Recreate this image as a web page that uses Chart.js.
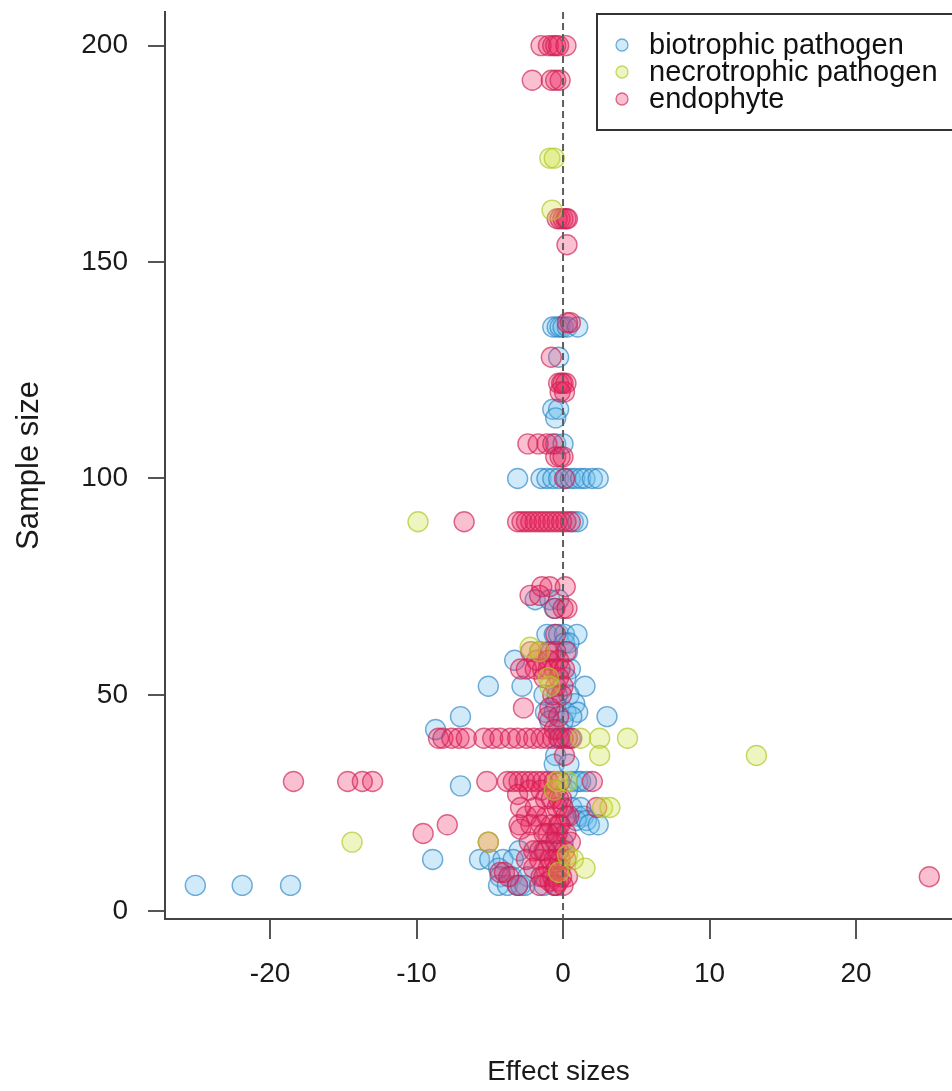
<!DOCTYPE html>
<html><head><meta charset="utf-8">
<script src="https://cdn.jsdelivr.net/npm/chart.js@4.4.0/dist/chart.umd.min.js"></script>
<style>html,body{margin:0;padding:0;background:#fff;overflow:hidden}#wrap{width:952px;height:1091px}</style>
</head><body><div id="wrap"><canvas id="c" width="952" height="1091"></canvas></div>
<script>
const seriesNames = ['biotrophic pathogen', 'necrotrophic pathogen', 'endophyte'];
const xTickValues = [-20, -10, 0, 10, 20];
const yTickValues = [0, 50, 100, 150, 200];
const xTitle = 'Effect sizes';
const yTitle = 'Sample size';

// biotrophic pathogen
const bioEffect = [
  -0.7,-0.4,-0.2,0,0.3,1.0,
  -0.3,
  -0.7,-0.3,
  -0.5,
  -0.5,0,
  -3.1,-1.5,-1.1,-0.7,-0.3,0.2,0.5,0.8,1.2,1.5,2.0,2.4,
  0.7,1.0,
  -1.9,-0.9,-0.3,
  -0.6,
  -1.1,-0.6,-0.3,0.1,0.95,
  0.1,0.4,
  -0.8,0.3,
  -3.3,
  0.5,
  0.2,
  -5.1,-2.8,1.5,
  -1.3,-0.4,0.4,
  -0.5,0.8,
  -1.2,-0.6,0.2,1.0,
  -7.0,0.6,3.0,
  -0.9,0.0,
  -8.7,-0.3,
  -0.2,0.5,
  -0.5,
  -0.6,0.4,
  0.6,1.0,1.2,1.6,
  -7.0,
  0.3,
  0.6,1.2,
  1.0,1.4,
  0.9,1.6,
  1.8,2.4,
  -0.5,
  0.0,
  -3.0,-1.3,
  -8.9,-5.7,-5.0,-4.1,-3.4,
  -4.4,
  -4.3,-3.5,-2.4,
  -25.1,-21.9,-18.6,-4.4,-3.8,-3.1,-2.9,-2.6,-1.3,-0.5
];
const bioN = [
  135,135,135,135,135,135,
  128,
  116,116,
  114,
  108,108,
  100,100,100,100,100,100,100,100,100,100,100,100,
  90,90,
  72,72,72,
  70,
  64,64,64,64,64,
  62,62,
  60,60,
  58,
  56,
  54,
  52,52,52,
  50,50,50,
  48,48,
  46,46,46,46,
  45,45,45,
  44,44,
  42,42,
  40,40,
  36,
  34,34,
  30,30,30,30,
  29,
  28,
  24,24,
  22,22,
  21,21,
  20,20,
  18,
  16,
  14,14,
  12,12,12,12,12,
  10,
  8,8,8,
  6,6,6,6,6,6,6,6,6,6
];

// necrotrophic pathogen
const necroEffect = [-0.9,-0.6, -0.75, -9.9, -2.25, -1.6, -1.0, -0.9, 1.2,2.5,4.4, 13.2,2.5, -0.4,0.3, -0.6, 2.7,3.2, -14.4,-5.1, 0.3, 0.7, 1.5, -0.3];
const necroN      = [174,174,   162,   90,   61,    60,   54,   52,   40,40,40,   36,36,   30,30,   28,   24,24,   16,16,    13,  12,  10,  9];

// endophyte
const endoEffect = [
  -1.5,-1.0,-0.7,-0.5,-0.3,0.2,
  -2.1,-0.8,-0.5,-0.2,
  -0.4,-0.2,0,0.2,0.3,
  0.27,
  0.3,0.5,
  -0.8,
  -0.3,-0.1,0.0,0.2,
  -0.2,0.1,
  -2.4,-1.7,-1.1,-0.7,
  -0.5,-0.2,0.0,
  0.1,
  -6.75,-3.1,-2.8,-2.5,-2.2,-1.9,-1.6,-1.3,-1.0,-0.7,-0.4,-0.1,0.2,0.5,
  -1.45,-0.9,0.15,
  -2.25,-1.6,
  -0.55,0.0,0.27,
  -0.5,
  -2.2,-1.6,-1.0,-0.5,0.2,
  -1.8,-1.0,-0.3,
  -2.9,-2.5,-1.9,-1.4,-1.0,-0.6,-0.2,0.1,
  -1.3,-0.3,
  -0.5,0.0,
  -0.7,-0.1,
  -2.7,-0.9,
  -1.0,-0.3,
  -0.6,
  -8.5,-8.2,-7.6,-7.1,-6.6,-5.4,-4.8,-4.3,-3.6,-3.1,-2.5,-2.0,-1.5,-1.1,-0.7,-0.3,0.0,0.3,0.6,
  0.1,
  -18.4,-14.7,-13.7,-13.0,-5.2,-3.8,-3.4,-3.0,-2.6,-2.2,-1.8,-1.4,-1.0,-0.6,-0.2,2.0,
  -2.3,-1.5,-0.5,
  -3.1,
  -1.2,-0.8,-0.3,-0.1,
  -2.9,-1.9,-0.4,0.0,2.3,
  -2.5,-1.8,-1.1,0.2,0.4,
  -7.9,-3.0,-2.2,-1.5,-0.8,-0.3,-0.2,
  -2.9,
  -9.55,-1.3,-1.0,-0.4,0.2,
  -5.1,-2.3,-0.8,-0.5,0.5,
  -2.0,-1.6,-1.2,-0.3,0.1,
  -2.5,-1.6,-0.9,-0.6,-0.2,0.2,
  -2.0,-1.0,-0.4,-0.2,
  -4.3,-4.0,
  25.0,-3.7,-1.5,-1.3,-0.7,-0.1,0.3,
  -0.9,-0.3,
  -3.1,-1.6,-0.6,-0.5,0.0
];
const endoN = [
  200,200,200,200,200,200,
  192,192,192,192,
  160,160,160,160,160,
  154,
  136,136,
  128,
  122,122,122,122,
  120,120,
  108,108,108,108,
  105,105,105,
  100,
  90,90,90,90,90,90,90,90,90,90,90,90,90,90,
  75,75,75,
  73,73,
  70,70,70,
  64,
  60,60,60,60,60,
  58,58,58,
  56,56,56,56,56,56,56,56,
  54,54,
  52,52,
  50,50,
  47,47,
  45,45,
  42,
  40,40,40,40,40,40,40,40,40,40,40,40,40,40,40,40,40,40,40,
  36,
  30,30,30,30,30,30,30,30,30,30,30,30,30,30,30,30,
  28,28,28,
  27,
  26,26,26,26,
  24,24,24,24,24,
  22,22,22,22,22,
  20,20,20,20,20,20,20,
  19,
  18,18,18,18,18,
  16,16,16,16,16,
  14,14,14,14,14,
  12,12,12,12,12,12,
  10,10,10,10,
  9,9,
  8,8,8,8,8,8,8,
  7,7,
  6,6,6,6,6
];

const FONT = '"Liberation Sans", Arial, Helvetica, sans-serif';
const fills   = ['rgba(110,190,235,0.32)', 'rgba(205,225,60,0.32)', 'rgba(236,30,90,0.28)'];
const borders = ['rgba(40,130,195,0.65)',  'rgba(175,200,40,0.7)',  'rgba(205,30,80,0.65)'];

function pts(xs, ys) { return xs.map((v, i) => ({x: v, y: ys[i]})); }

const refLine = {
  id: 'refLine',
  afterDatasetsDraw(chart) {
    const {ctx, chartArea, scales} = chart;
    const x = scales.x.getPixelForValue(0);
    ctx.save();
    ctx.strokeStyle = '#5e5e5e';
    ctx.lineWidth = 2;
    ctx.setLineDash([7, 4]);
    ctx.beginPath();
    ctx.moveTo(x, chartArea.top);
    ctx.lineTo(x, chartArea.bottom);
    ctx.stroke();
    ctx.restore();
  }
};

const boxLegend = {
  id: 'boxLegend',
  afterDraw(chart) {
    const {ctx, chartArea} = chart;
    const left = chartArea.left + 432, top = chartArea.top + 2;
    ctx.save();
    ctx.fillStyle = '#fff';
    ctx.fillRect(left, top, 380, 116);
    ctx.strokeStyle = '#333';
    ctx.lineWidth = 2;
    ctx.strokeRect(left, top, 380, 116);
    ctx.font = '29px ' + FONT;
    ctx.textBaseline = 'middle';
    ctx.textAlign = 'left';
    chart.data.datasets.forEach((ds, i) => {
      const cy = top + 31 + i * 27;
      ctx.beginPath();
      ctx.arc(left + 25, cy, 6, 0, Math.PI * 2);
      ctx.fillStyle = ds.backgroundColor;
      ctx.fill();
      ctx.lineWidth = 1.3;
      ctx.strokeStyle = ds.borderColor;
      ctx.stroke();
      ctx.fillStyle = '#111';
      ctx.fillText(ds.label, left + 52, cy + 1);
    });
    ctx.restore();
  }
};

const order = [2, 0, 1];
const dataSets = [
  pts(bioEffect, bioN), pts(necroEffect, necroN), pts(endoEffect, endoN)
];

new Chart(document.getElementById('c'), {
  type: 'scatter',
  data: {
    datasets: [0, 1, 2].map(i => ({
      label: seriesNames[i],
      data: dataSets[i],
      backgroundColor: fills[i],
      borderColor: borders[i],
      borderWidth: 1.4,
      pointRadius: 10,
      pointHoverRadius: 10,
      order: order[i]
    }))
  },
  options: {
    responsive: false,
    animation: false,
    devicePixelRatio: 1,
    events: [],
    layout: {autoPadding: false, padding: {top: 12, right: 0, left: 0, bottom: 0}},
    plugins: {legend: {display: false}, tooltip: {enabled: false}},
    scales: {
      x: {
        type: 'linear',
        min: -27.17, max: 26.55,
        afterBuildTicks: s => { s.ticks = xTickValues.map(v => ({value: v})); },
        afterFit: s => { s.height = 172; s.paddingLeft = 0; s.paddingRight = 0; },
        grid: {drawOnChartArea: false, drawTicks: true, tickLength: 20, color: '#555', lineWidth: 2},
        border: {display: true, color: '#444', width: 2},
        ticks: {font: {size: 28, family: FONT}, color: '#1a1a1a', padding: 18, maxRotation: 0, autoSkip: false},
        title: {display: true, text: xTitle, font: {size: 28, family: FONT}, color: '#1a1a1a', padding: {top: 0, bottom: 2}}
      },
      y: {
        type: 'linear',
        min: -1.76, max: 207.76,
        afterBuildTicks: s => { s.ticks = yTickValues.map(v => ({value: v})); },
        afterFit: s => { s.width = 165; s.paddingTop = 0; s.paddingBottom = 0; },
        grid: {drawOnChartArea: false, drawTicks: true, tickLength: 17, color: '#555', lineWidth: 2},
        border: {display: true, color: '#444', width: 2},
        ticks: {font: {size: 28, family: FONT}, color: '#1a1a1a', padding: 20, autoSkip: false},
        title: {display: true, text: yTitle, font: {size: 31, family: FONT}, color: '#1a1a1a', padding: {top: 11, bottom: 0}}
      }
    }
  },
  plugins: [refLine, boxLegend]
});
</script>
</body></html>
